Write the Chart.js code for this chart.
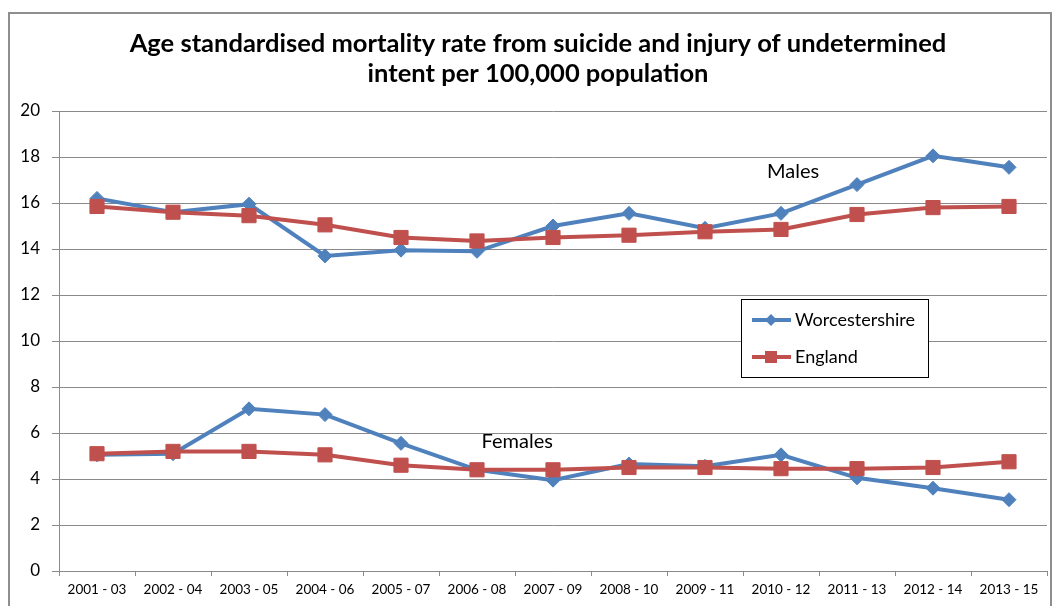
<!DOCTYPE html>
<html>
<head>
<meta charset="utf-8">
<script src="https://cdn.jsdelivr.net/npm/chart.js@4.4.1/dist/chart.umd.min.js"></script>
<style>
  html, body { margin: 0; padding: 0; background: #fff; }
  #wrap { position: relative; width: 1058px; height: 606px; overflow: hidden; }
  #frame { position: absolute; left: 8px; top: 12px; width: 1044px; height: 660px;
           border: 2px solid #8e8e8e; box-sizing: border-box; }
  #c { position: absolute; left: 0; top: 0; }
</style>
</head>
<body>
<div id="wrap">
  <div id="frame"></div>
  <canvas id="c" width="1058" height="606"></canvas>
</div>
<script>
// Three-year rolling periods
const periods = ['2001 - 03', '2002 - 04', '2003 - 05', '2004 - 06', '2005 - 07', '2006 - 08',
                 '2007 - 09', '2008 - 10', '2009 - 11', '2010 - 12', '2011 - 13', '2012 - 14', '2013 - 15'];

// Age standardised rates per 100,000
const worcsMales     = [16.2, 15.6, 15.95, 13.7, 13.95, 13.9, 15.0, 15.55, 14.9, 15.55, 16.8, 18.05, 17.55];
const englandMales   = [15.85, 15.6, 15.45, 15.05, 14.5, 14.35, 14.5, 14.6, 14.75, 14.85, 15.5, 15.8, 15.85];
const worcsFemales   = [5.05, 5.1, 7.05, 6.8, 5.55, 4.4, 3.95, 4.65, 4.55, 5.05, 4.05, 3.6, 3.1];
const englandFemales = [5.1, 5.2, 5.2, 5.05, 4.6, 4.4, 4.4, 4.5, 4.5, 4.45, 4.45, 4.5, 4.75];

const yTicks = [0, 2, 4, 6, 8, 10, 12, 14, 16, 18, 20];

const titleLines = ['Age standardised mortality rate from suicide and injury of undetermined',
                    'intent per 100,000 population'];
const seriesNames = ['Worcestershire', 'England'];
const groupLabels = ['Males', 'Females'];

const BLUE = '#4F81BD';
const RED = '#C0504D';
const GRID = '#8a8a8a';
const FONT = 'Lato, "Open Sans", sans-serif';

function lineSet(label, data, color, style, radius, order) {
  return {
    label, data, order,
    borderColor: color, backgroundColor: color,
    borderWidth: 4, tension: 0,
    pointStyle: style, pointRadius: radius,
    pointBorderWidth: 1, pointBorderColor: color, pointBackgroundColor: color
  };
}

// Title, the Males / Females tags and the boxed legend
const decorations = {
  id: 'decorations',
  afterDatasetsDraw(chart) {
    const { ctx, scales } = chart;
    const x = scales.x, y = scales.y;
    ctx.save();
    ctx.fillStyle = '#000';
    ctx.textBaseline = 'middle';

    // title
    ctx.textAlign = 'center';
    ctx.font = 'bold 25.5px ' + FONT;
    ctx.fillText(titleLines[0], 538, 44);
    ctx.fillText(titleLines[1], 538, 74);

    // group tags, placed in data coordinates
    ctx.font = '20px ' + FONT;
    ctx.fillText(groupLabels[0], x.getPixelForValue(9.16), y.getPixelForValue(17.35));
    ctx.fillText(groupLabels[1], x.getPixelForValue(5.53), y.getPixelForValue(5.65));

    // legend box
    const bx = 741, by = 299, bw = 187, bh = 78;
    ctx.fillStyle = '#fff';
    ctx.fillRect(bx, by, bw, bh);
    ctx.strokeStyle = '#000';
    ctx.lineWidth = 1;
    ctx.strokeRect(bx + 0.5, by + 0.5, bw, bh);

    const rows = [
      { name: seriesNames[0], color: BLUE, cy: 320, diamond: true },
      { name: seriesNames[1], color: RED, cy: 357, diamond: false }
    ];
    rows.forEach(r => {
      ctx.strokeStyle = r.color;
      ctx.fillStyle = r.color;
      ctx.lineWidth = 4;
      ctx.beginPath();
      ctx.moveTo(752, r.cy);
      ctx.lineTo(791, r.cy);
      ctx.stroke();
      ctx.beginPath();
      if (r.diamond) {
        ctx.moveTo(771, r.cy - 6);
        ctx.lineTo(777, r.cy);
        ctx.lineTo(771, r.cy + 6);
        ctx.lineTo(765, r.cy);
        ctx.closePath();
      } else {
        ctx.rect(765, r.cy - 6, 12, 12);
      }
      ctx.fill();
      ctx.fillStyle = '#000';
      ctx.textAlign = 'left';
      ctx.font = '18px ' + FONT;
      ctx.fillText(r.name, 795, r.cy);
    });
    ctx.restore();
  }
};

new Chart(document.getElementById('c'), {
  type: 'line',
  data: {
    labels: periods,
    datasets: [
      lineSet(seriesNames[0] + ' males', worcsMales, BLUE, 'rectRot', 7, 1),
      lineSet(seriesNames[1] + ' males', englandMales, RED, 'rect', 10, 0),
      lineSet(seriesNames[0] + ' females', worcsFemales, BLUE, 'rectRot', 7, 1),
      lineSet(seriesNames[1] + ' females', englandFemales, RED, 'rect', 10, 0)
    ]
  },
  options: {
    responsive: false,
    animation: false,
    devicePixelRatio: 1,
    layout: { padding: { left: 0, right: 11, top: 111, bottom: 0 } },
    plugins: {
      legend: { display: false },
      tooltip: { enabled: false },
      title: { display: false }
    },
    scales: {
      x: {
        type: 'category',
        offset: true,
        grid: { offset: true, drawOnChartArea: false, drawTicks: true, tickLength: 5, color: GRID, lineWidth: 1 },
        border: { color: GRID, width: 1 },
        ticks: { color: '#000', font: { family: FONT, size: 13.5 }, padding: 6, maxRotation: 0, autoSkip: false },
        afterFit(s) { s.height = 35; }
      },
      y: {
        min: yTicks[0],
        max: yTicks[yTicks.length - 1],
        afterBuildTicks(s) { s.ticks = yTicks.map(v => ({ value: v })); },
        grid: { color: GRID, lineWidth: 1, tickLength: 7 },
        border: { color: GRID, width: 1 },
        ticks: { color: '#000', font: { family: FONT, size: 17 }, padding: 12 },
        afterFit(s) { s.width = 59; }
      }
    }
  },
  plugins: [decorations]
});
</script>
</body>
</html>
